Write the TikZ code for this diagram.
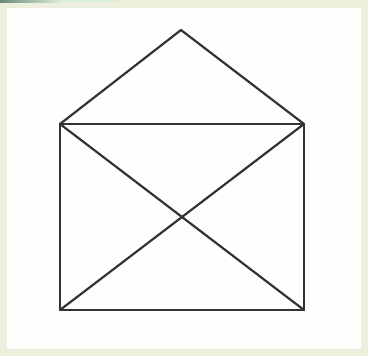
\documentclass[tikz,border=0pt]{standalone}
\definecolor{framebg}{HTML}{ECEFDC}
\definecolor{stripdark}{HTML}{6E8A78}
\definecolor{striplight}{HTML}{D8ECD8}
\definecolor{inner}{HTML}{FEFEFC}
\begin{document}
\begin{tikzpicture}[x=1pt,y=-1pt,
  edge/.style={draw=black!80, line width=2.2pt, line join=round, line cap=round}]
\fill[framebg] (0,0) rectangle (368,356);
\shade[left color=stripdark, right color=striplight] (0,0) rectangle (60,2.5);
\fill[striplight] (60,0) rectangle (120,2.5);
\fill[inner] (7,8) rectangle (361,349);
\useasboundingbox (0,0) rectangle (368,356);
\coordinate (apex) at (181,30);
\coordinate (tl) at (60,124);
\coordinate (tr) at (304,124);
\coordinate (bl) at (60,310);
\coordinate (br) at (304,310);
\draw[edge] (tl) -- (apex) -- (tr);
\draw[edge] (tl) -- (tr) -- (br) -- (bl) -- cycle;
\draw[edge] (tl) -- (br);
\draw[edge] (tr) -- (bl);
\end{tikzpicture}
\end{document}
